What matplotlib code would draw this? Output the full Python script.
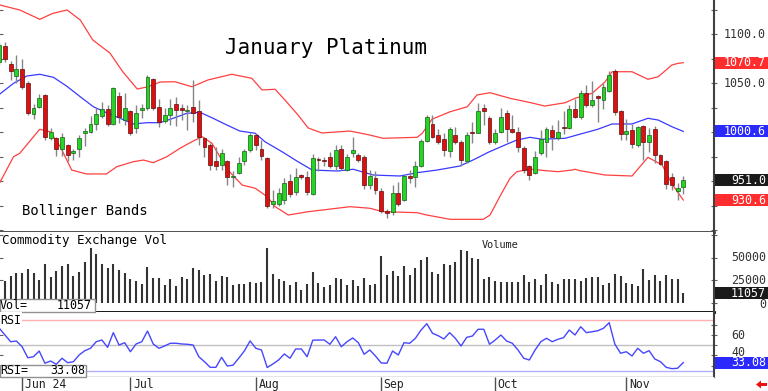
import numpy as np
import matplotlib
matplotlib.use('Agg')
import matplotlib.pyplot as plt
from matplotlib.patches import Rectangle, Polygon
from matplotlib.transforms import blended_transform_factory, offset_copy

# daily candles, index 0 is cut off by the left edge
opens = [1071, 1088, 1069, 1057, 1064, 1050, 1018, 1026, 1038, 994,
         994, 983, 987, 979, 983, 999, 1000, 1008, 1016, 1023,
         1008, 1037, 1012, 1021, 1004, 1022, 1024, 1054, 1026, 1011,
         1017, 1029, 1025, 1021, 1026, 1021, 994, 987, 970, 966,
         970, 954, 958, 970, 982, 997, 983, 973, 927, 927,
         931, 950, 939, 956, 954, 937, 972, 971, 975, 965,
         983, 961, 979, 977, 975, 946, 953, 940, 919, 918,
         938, 931, 955, 954, 965, 991, 1008, 997, 993, 981,
         997, 990, 970, 1000, 999, 1024, 1014, 990, 1000, 1019,
         1003, 1000, 984, 965, 958, 979, 990, 1002, 994, 1005,
         1004, 1023, 1015, 1040, 1028, 1037, 1033, 1042, 1062, 1021,
         998, 1002, 987, 1006, 990, 1003, 977, 970, 954, 940,
         944]
highs = [1092, 1092, 1072, 1079, 1075, 1052, 1029, 1039, 1039, 1004,
         995, 999, 988, 983, 997, 1004, 1016, 1024, 1031, 1028,
         1046, 1041, 1040, 1022, 1028, 1029, 1058, 1055, 1034, 1024,
         1034, 1036, 1029, 1028, 1053, 1033, 995, 989, 985, 983,
         971, 960, 975, 983, 999, 998, 992, 975, 941, 943,
         953, 957, 963, 957, 960, 978, 975, 975, 980, 987,
         987, 978, 995, 979, 977, 961, 960, 943, 921, 946,
         949, 956, 961, 970, 993, 1017, 1017, 1003, 999, 1005,
         1005, 992, 1000, 1010, 1030, 1029, 1016, 1003, 1024, 1022,
         1017, 1005, 986, 966, 981, 1002, 1005, 1007, 1012, 1021,
         1028, 1034, 1043, 1048, 1052, 1038, 1050, 1062, 1064, 1022,
         1013, 1008, 1006, 1007, 1004, 1006, 978, 971, 958, 948,
         955]
lows = [1068, 1071, 1053, 1050, 1044, 1017, 1013, 1024, 992, 992,
        976, 976, 970, 971, 975, 986, 999, 1002, 1014, 1006,
        1007, 1009, 1007, 997, 999, 1014, 1022, 1022, 1005, 1009,
        1007, 1006, 1012, 1002, 1010, 987, 975, 961, 961, 961,
        946, 944, 957, 966, 980, 982, 971, 922, 922, 925,
        927, 934, 936, 952, 936, 936, 960, 965, 963, 961,
        961, 960, 975, 969, 942, 942, 937, 917, 912, 915,
        925, 930, 948, 944, 964, 990, 994, 988, 976, 975,
        988, 965, 968, 989, 999, 1007, 988, 988, 999, 990,
        999, 980, 958, 951, 957, 977, 975, 982, 992, 998,
        1003, 1014, 1013, 1026, 1026, 1010, 1023, 1041, 1017, 992,
        992, 984, 985, 971, 980, 968, 966, 942, 941, 931,
        937]
closes = [1089, 1075, 1062, 1064, 1046, 1019, 1024, 1035, 995, 1000,
          983, 995, 977, 981, 994, 1001, 1008, 1018, 1023, 1008,
          1045, 1015, 1024, 999, 1019, 1025, 1056, 1024, 1010, 1017,
          1024, 1022, 1022, 1022, 1019, 995, 985, 966, 965, 979,
          954, 955, 968, 981, 997, 987, 976, 924, 930, 938,
          948, 937, 954, 954, 939, 973, 971, 970, 965, 982,
          963, 975, 982, 971, 946, 955, 941, 919, 917, 938,
          927, 955, 953, 965, 991, 1015, 995, 990, 982, 1003,
          990, 971, 997, 999, 1021, 1021, 990, 999, 1015, 1003,
          1000, 985, 961, 956, 974, 993, 1003, 995, 1000, 1004,
          1023, 1015, 1040, 1028, 1033, 1035, 1046, 1058, 1020, 998,
          1001, 988, 1005, 990, 997, 977, 967, 947, 946, 943,
          951]

# volume for candles 1..120
volume = [24800, 30400, 33000, 33000, 37800, 33700, 25600, 43700, 28900, 35600,
          40700, 43700, 29600, 34400, 45200, 61400, 54100, 43000, 38500, 43000,
          36700, 33000, 26700, 24800, 21100, 39600, 28100, 27400, 20000, 26300,
          19300, 28500, 26300, 38500, 36300, 30700, 31800, 24400, 29600, 29300,
          20000, 21100, 21100, 23000, 22200, 23700, 60700, 31800, 26700, 24400,
          19600, 23000, 14400, 20700, 34100, 21900, 17800, 19600, 27400, 26700,
          20000, 25600, 18900, 27800, 20000, 21500, 52600, 31100, 35600, 30000,
          41100, 30700, 39300, 47400, 51100, 34100, 31800, 43300, 42200, 45900,
          58900, 57800, 49600, 48900, 26700, 28900, 24400, 23300, 23300, 23300,
          23300, 31100, 23300, 27000, 20000, 32200, 23700, 21100, 26700, 26300,
          26700, 24800, 27400, 29300, 28900, 20000, 21900, 32200, 29600, 22600,
          21500, 18900, 37400, 25600, 31500, 24800, 31100, 26700, 27000, 11057]

rsi = [66.7, 60.1, 53.5, 54.2, 48.6, 37.8, 38.8, 44.4, 32.4, 34.6,
       31.4, 37.3, 32.9, 33.9, 40.5, 44.7, 47.1, 53.5, 55.2, 48.0,
       62.4, 50.3, 52.5, 43.7, 51.3, 53.5, 64.0, 51.3, 47.1, 49.3,
       52.0, 52.0, 51.3, 51.0, 50.3, 38.8, 33.9, 28.4, 28.4, 38.2,
       29.7, 30.5, 37.3, 44.5, 54.3, 47.1, 45.4, 28.2, 31.7, 35.6,
       41.5, 37.3, 46.4, 46.4, 38.8, 55.0, 55.2, 55.2, 51.0, 58.4,
       48.6, 53.5, 57.2, 52.5, 41.2, 45.4, 39.5, 32.7, 32.4, 44.4,
       40.5, 52.5, 52.0, 56.9, 65.0, 71.2, 61.8, 59.4, 56.2, 62.4,
       56.9, 49.3, 57.8, 59.1, 65.7, 65.7, 51.0, 55.2, 60.1, 54.2,
       52.0, 45.4, 37.3, 35.6, 45.4, 53.5, 56.9, 53.5, 55.9, 57.5,
       65.0, 60.1, 68.2, 62.4, 63.3, 64.3, 66.7, 72.2, 51.0, 42.2,
       43.7, 39.5, 47.1, 42.2, 44.7, 36.6, 33.9, 28.4, 27.1, 27.5,
       33.08]

# bollinger bands (bar position, price)
upper_x = [0.1, 3.6, 7.1, 9.4, 11.9, 14.2, 16.4, 19.4, 21.7, 24.2, 25.9, 28.2, 30.8, 33.8, 36.6,
           40.8, 44.3, 46.1, 48.4, 50.1, 52.4, 54.2, 56.6, 61.5, 65.0, 67.3, 73.3, 74.2, 75.9, 79.1,
           82.1, 83.8, 86.1, 89.6, 93.1, 95.7, 99.3, 101.0, 104.0, 106.3, 107.5, 111.0, 113.8, 115.6,
           118.0, 119.1, 120.0]
upper_y = [1129.6, 1124.5, 1115.0, 1121.1, 1124.5, 1114.3, 1093.9, 1080.6, 1061.2, 1043.9, 1045.9,
           1051.0, 1051.3, 1046.2, 1053.1, 1058.9, 1054.8, 1042.9, 1043.6, 1032.7, 1017.4, 1004.1,
           999.0, 1001.0, 996.9, 993.6, 994.6, 998.7, 1013.0, 1020.7, 1025.8, 1037.8, 1040.1, 1034.4,
           1030.1, 1026.5, 1029.9, 1034.4, 1039.5, 1051.3, 1061.5, 1061.5, 1053.8, 1056.4, 1068.4,
           1070.1, 1070.7]
mid_x = [0.1, 2.5, 4.8, 7.1, 9.5, 11.8, 14.2, 16.5, 18.8, 21.2, 23.5, 25.9, 28.2, 30.5, 32.9,
         35.2, 37.5, 39.9, 42.2, 44.9, 46.6, 49.6, 52.4, 54.9, 59.3, 62.1, 65.6, 70.3, 73.3, 76.8,
         80.8, 83.5, 85.7, 88.7, 90.8, 93.1, 95.2, 99.3, 102.8, 105.0, 107.5, 111.0, 113.8, 115.6,
         118.0, 120.0]
mid_y = [1038.8, 1049.7, 1057.1, 1058.9, 1055.8, 1046.9, 1036.0, 1025.8, 1019.7, 1014.0, 1008.2,
         1009.5, 1009.5, 1014.0, 1019.1, 1020.1, 1014.0, 1007.2, 1001.0, 998.7, 990.1, 979.9,
         969.7, 961.2, 960.2, 962.0, 956.1, 955.1, 958.5, 961.2, 965.3, 972.5, 979.1, 986.7,
         991.8, 994.6, 992.6, 993.6, 999.3, 1002.8, 1008.2, 1008.2, 1014.0, 1012.2, 1005.4, 1000.6]
low_x = [0.1, 2.5, 3.6, 6.0, 7.1, 8.9, 10.7, 12.7, 15.3, 18.8, 20.6, 23.5, 25.3, 27.0, 29.4,
         31.7, 33.8, 35.6, 37.3, 40.1, 42.6, 44.9, 47.0, 48.4, 50.7, 54.2, 57.7, 61.5, 65.0, 67.3,
         73.3, 75.0, 79.1, 84.9, 86.1, 87.8, 89.6, 90.8, 93.1, 98.0, 100.5, 101.0, 101.9, 106.3,
         111.0, 113.8, 116.3, 118.0, 120.0]
low_y = [948.5, 974.8, 978.3, 995.2, 1002.8, 1000.3, 985.0, 961.2, 957.2, 957.2, 964.6, 969.7,
         971.4, 968.7, 974.8, 983.4, 990.1, 995.2, 988.5, 961.2, 945.9, 942.6, 934.0, 923.8,
         915.3, 918.7, 921.1, 923.8, 922.2, 918.7, 917.7, 915.3, 910.9, 910.9, 915.3, 934.0,
         952.8, 959.5, 962.0, 959.5, 961.2, 962.0, 960.5, 956.1, 955.1, 974.2, 966.3, 947.0, 930.6]

month_pos = [4, 23, 45, 67, 87, 110]
month_lbl = ['Jun 24', 'Jul', 'Aug', 'Sep', 'Oct', 'Nov']

W, H = 768, 391
plt.rcParams['font.family'] = ['DejaVu Sans Mono']
fig = plt.figure(figsize=(W / 100, H / 100), dpi=100)


def px_rect(x0, y0, x1, y1):
    # pixel box (top-left origin) -> figure fraction [l, b, w, h]
    return [x0 / W, 1 - y1 / H, (x1 - x0) / W, (y1 - y0) / H]


ax = fig.add_axes(px_rect(0, 0, 714, 232))
axv = fig.add_axes(px_rect(0, 232, 714, 312))
axr = fig.add_axes(px_rect(0, 312, 714, 376.5))
axd = fig.add_axes(px_rect(0, 376.5, 714, 391))

xlim = (0.1228, 125.386)
for a in (ax, axv, axr, axd):
    a.set_xlim(*xlim)
    a.set_xticks([])
    a.spines['top'].set_visible(False)
    a.spines['left'].set_visible(False)
    a.spines['right'].set_color('#404040')
    a.spines['right'].set_linewidth(1.5)
    a.set_facecolor('white')

idx = np.arange(len(opens))
o = np.array(opens)
c = np.array(closes)

# price panel
ax.set_ylim(897.97, 1134.7)
ax.plot(upper_x, upper_y, color='#ff4040', lw=0.9)
ax.plot(low_x, low_y, color='#ff4040', lw=0.9)
ax.plot(mid_x, mid_y, color='#3a3aff', lw=0.9)
ax.vlines(idx, lows, highs, color='#858585', lw=1.0)
up = c >= o
body_col = np.where(up, '#22d622', '#dd0f0f')
edge_col = np.where(up, '#1c5a1c', '#5a0f0f')
ax.bar(idx, np.maximum(np.abs(c - o), 1.0), bottom=np.minimum(o, c), width=0.7,
       color=body_col, edgecolor=edge_col, linewidth=0.5, zorder=3)
ax.spines['bottom'].set_color('#404040')
ax.spines['bottom'].set_linewidth(2)
ax.set_yticks(np.arange(900, 1126, 25))
ax.tick_params(axis='y', left=True, right=True, labelleft=False, labelright=False,
               direction='inout', length=5, color='#606060')

# volume panel
axv.set_ylim(-10000, 78880)
axv.vlines(idx[1:], 0, volume, color='#333333', lw=1.5)
axv.spines['bottom'].set_color('black')
axv.spines['bottom'].set_linewidth(2)
axv.set_yticks([0, 25000, 50000, 75000])
axv.tick_params(axis='y', left=True, right=True, labelleft=False, labelright=False,
                direction='inout', length=5, color='#606060')

# rsi panel
axr.set_ylim(19.41, 82.65)
axr.axhline(75, color='#ffb0b0', lw=1)
axr.axhline(50, color='#c0c0c0', lw=1)
axr.axhline(25, color='#b0b0ff', lw=1)
axr.plot(idx, rsi, color='#4646ff', lw=1.0)
axr.spines['bottom'].set_color('#808080')
axr.spines['bottom'].set_linewidth(1)
axr.set_yticks([30, 40, 50, 60, 70])
axr.tick_params(axis='y', left=True, right=True, labelleft=False, labelright=False,
                direction='inout', length=5, color='#606060')

# date strip
axd.set_ylim(0, 1)
axd.set_yticks([])
axd.spines['bottom'].set_visible(False)
axd.spines['right'].set_visible(False)
axd.vlines(month_pos, 0, 1, color='#505050', lw=1)
toff = offset_copy(axd.transData, fig=fig, x=2.5, y=0, units='dots')
for p, lbl in zip(month_pos, month_lbl):
    axd.text(p, 0.42, lbl, transform=toff, ha='left', va='center', fontsize=8.3, color='#222222')


def right_label(a, val, txt, ha='right', x=766, dy=0):
    tr = blended_transform_factory(fig.transFigure, a.transData)
    tr = offset_copy(tr, fig=fig, x=0, y=dy, units='dots')
    a.text(x / W, val, txt, transform=tr, ha=ha, va='center', fontsize=8.4,
           color='#333333', clip_on=False)


def value_box(a, val, txt, fc):
    yfig = fig.transFigure.inverted().transform(a.transData.transform((0, val)))[1]
    fig.add_artist(Rectangle((715 / W, yfig - 6 / H), 53 / W, 12 / H, transform=fig.transFigure,
                             facecolor=fc, edgecolor='none', zorder=5))
    fig.text(766 / W, yfig, txt, ha='right', va='center', color='white', fontsize=8.4, zorder=6)


right_label(ax, 1100, '1100.0')
right_label(ax, 1050, '1050.0')
value_box(ax, upper_y[-1], '1070.7', '#ff2d2d')
value_box(ax, mid_y[-1], '1000.6', '#2a2aff')
value_box(ax, closes[-1], '951.0', '#1a1a1a')
value_box(ax, low_y[-1], '930.6', '#ff2d2d')

right_label(axv, 50000, '50000')
right_label(axv, 25000, '25000')
right_label(axv, 0, '0', dy=-1.5)
value_box(axv, volume[-1], '11057', '#1a1a1a')

right_label(axr, 60, '60', ha='left', x=731)
right_label(axr, 40, '40', ha='left', x=731, dy=2.5)
value_box(axr, rsi[-1], '33.08', '#2a2aff')

# titles
fig.text(225 / W, 1 - 48 / H, 'January Platinum', fontsize=15, va='center', color='black')
fig.text(22 / W, 1 - 211 / H, 'Bollinger Bands', fontsize=10, va='center', color='black')
fig.text(2 / W, 1 - 241 / H, 'Commodity Exchange Vol', fontsize=9, va='center', color='black')
fig.text(482 / W, 1 - 245 / H, 'Volume', fontsize=7.4, va='center', color='#222222')
fig.text(0, 1 - 320 / H, 'RSI', fontsize=8.4, va='center', color='black', zorder=6,
         bbox=dict(facecolor='white', edgecolor='none', pad=1))

# readout boxes at the bottom left of the lower panels
fig.add_artist(Rectangle((0, 1 - 312 / H), 95 / W, 13 / H, transform=fig.transFigure,
                         facecolor='white', edgecolor='#909090', lw=1, zorder=5))
fig.text(0, 1 - 305.5 / H, 'Vol=', fontsize=8.4, va='center', color='black', zorder=6)
fig.text(92 / W, 1 - 305.5 / H, '11057', fontsize=8.4, va='center', ha='right', color='black', zorder=6)
fig.add_artist(Rectangle((0, 1 - 376.5 / H), 86 / W, 12 / H, transform=fig.transFigure,
                         facecolor='white', edgecolor='#909090', lw=1, zorder=5))
fig.text(0, 1 - 370.5 / H, 'RSI=', fontsize=8.4, va='center', color='black', zorder=6)
fig.text(85 / W, 1 - 370.5 / H, '33.08', fontsize=8.4, va='center', ha='right', color='black', zorder=6)

# little red arrow bottom right
arrow = [(756, 384.5), (761, 380.5), (761, 383), (767, 383), (767, 386), (761, 386), (761, 388.5)]
fig.add_artist(Polygon([(x / W, 1 - y / H) for x, y in arrow], closed=True,
                       transform=fig.transFigure, facecolor='#ee1111', edgecolor='none'))

fig.savefig('out.png', dpi=100, facecolor='white')
